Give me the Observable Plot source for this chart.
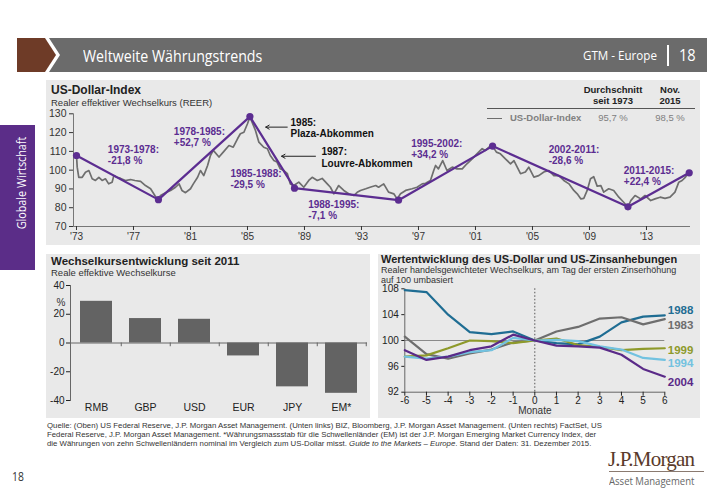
<!DOCTYPE html>
<html><head><meta charset="utf-8">
<script src="https://cdn.jsdelivr.net/npm/d3@7"></script>
<script src="https://cdn.jsdelivr.net/npm/@observablehq/plot@0.6"></script>
<style>
body{margin:0;background:#fff;}
#slide{position:relative;width:719px;height:498px;overflow:hidden;font-family:"Liberation Sans",Arial,sans-serif;color:#222;}
.abs{position:absolute;white-space:nowrap;}
.panel{position:absolute;background:#e9e9e9;}
.narrow{font-family:"Open Sans",sans-serif;transform-origin:left top;transform:scaleX(0.86);}
.foot{position:absolute;left:47px;font-size:7.8px;color:#333;white-space:nowrap;}
</style></head><body><div id="slide">
<svg class="abs" style="left:0;top:38px" width="719" height="34">
  <polygon points="17,0 45,0 56,17 45,34 17,34" fill="#6e3b27"/>
  <polygon points="49,0 707,0 707,34 49,34 60,17" fill="#6b6b6b"/>
</svg>
<div class="abs narrow" style="left:83px;top:44px;font-size:16.5px;color:#fff;">Weltweite Währungstrends</div>
<div class="abs narrow" style="left:583px;top:46px;font-size:13.5px;color:#fff;">GTM - Europe</div>
<div class="abs" style="left:667px;top:45px;width:1.5px;height:21px;background:#fff;"></div>
<div class="abs narrow" style="left:679px;top:43px;font-size:17px;color:#fff;">18</div>

<div class="abs" style="left:0;top:125px;width:35px;height:145px;background:#5b2d88;"></div>
<div class="abs" style="left:21px;top:183px;font-size:12px;font-family:'Open Sans',sans-serif;color:#fff;transform:translate(-50%,-50%) rotate(-90deg) scaleX(0.9);">Globale Wirtschaft</div>

<div class="panel" style="left:46px;top:80px;width:654px;height:165px;"></div>
<div class="panel" style="left:46px;top:254px;width:324px;height:164px;"></div>
<div class="panel" style="left:378px;top:254px;width:322px;height:164px;"></div>

<div class="abs" style="left:51px;top:83px;font-size:12px;font-weight:bold;">US-Dollar-Index</div>
<div class="abs" style="left:51px;top:97px;font-size:9.5px;color:#333;">Realer effektiver Wechselkurs (REER)</div>
<div class="abs" style="left:573px;top:84px;width:80px;text-align:center;font-size:9.5px;font-weight:bold;line-height:11px;">Durchschnitt<br>seit 1973</div>
<div class="abs" style="left:640px;top:84px;width:60px;text-align:center;font-size:9.5px;font-weight:bold;line-height:11px;">Nov.<br>2015</div>
<div class="abs" style="left:487px;top:107.5px;width:208px;height:1.5px;background:#555;"></div>
<div class="abs" style="left:487px;top:117.5px;width:15px;height:1.8px;background:#6e6e6e;"></div>
<div class="abs" style="left:510px;top:112px;font-size:9.5px;font-weight:bold;color:#808080;">US-Dollar-Index</div>
<div class="abs" style="left:573px;top:112px;width:80px;text-align:center;font-size:9.5px;color:#808080;">95,7 %</div>
<div class="abs" style="left:640px;top:112px;width:60px;text-align:center;font-size:9.5px;color:#808080;">98,5 %</div>

<div class="abs" style="left:51px;top:255px;font-size:11.5px;font-weight:bold;">Wechselkursentwicklung seit 2011</div>
<div class="abs" style="left:51px;top:268px;font-size:9.5px;line-height:10px;color:#333;">Reale effektive Wechselkurse</div>

<div class="abs" style="left:381px;top:253px;font-size:11px;font-weight:bold;">Wertentwicklung des US-Dollar und US-Zinsanhebungen</div>
<div class="abs" style="left:381px;top:264.5px;font-size:9px;color:#333;line-height:10px;">Realer handelsgewichteter Wechselkurs, am Tag der ersten Zinserhöhung<br>auf 100 umbasiert</div>

<div class="foot" style="top:421px;">Quelle: (Oben) US Federal Reserve, J.P. Morgan Asset Management. (Unten links) BIZ, Bloomberg, J.P. Morgan Asset Management. (Unten rechts) FactSet, US</div>
<div class="foot" style="top:430px;">Federal Reserve, J.P. Morgan Asset Management. *Währungsmassstab für die Schwellenländer (EM) ist der J.P. Morgan Emerging Market Currency Index, der</div>
<div class="foot" style="top:439px;">die Währungen von zehn Schwellenländern nominal im Vergleich zum US-Dollar misst. <i>Guide to the Markets – Europe</i>. Stand der Daten: 31. Dezember 2015.</div>

<div class="abs narrow" style="left:12px;top:468px;font-size:12px;color:#333;">18</div>
<div class="abs" style="left:608px;top:447px;font-size:21px;font-family:'Liberation Serif','DejaVu Serif',serif;color:#5a3a2a;letter-spacing:-0.8px;">J.P.Morgan</div>
<div class="abs" style="left:609px;top:471px;width:95px;height:0.8px;background:#8a7a70;"></div>
<div class="abs" style="left:609px;top:473px;font-size:11.5px;font-family:'Open Sans',sans-serif;color:#666;transform-origin:left top;transform:scaleX(0.83);">Asset Management</div>
</div>
<script>
// ---------- Top chart data ----------
const usdYears = [1973.0,1973.05,1973.16,1973.4,1973.63,1973.87,1974.1,1974.33,1974.57,1974.8,1975.03,1975.26,1975.5,1975.62,1975.85,1976.1,1976.44,1976.79,1977.1,1977.5,1977.84,1978.2,1978.5,1978.7,1978.9,1979.25,1979.6,1979.95,1980.2,1980.4,1980.65,1981.0,1981.2,1981.5,1981.7,1981.93,1982.2,1982.4,1982.6,1983.0,1983.3,1983.7,1984.0,1984.3,1984.5,1984.75,1985.0,1985.16,1985.3,1985.56,1985.8,1986.14,1986.4,1986.6,1986.85,1987.07,1987.3,1987.55,1987.8,1988.0,1988.25,1988.6,1988.95,1989.3,1989.54,1989.9,1990.24,1990.6,1990.82,1991.06,1991.4,1991.76,1992.1,1992.46,1992.7,1992.93,1993.3,1993.6,1994.0,1994.2,1994.56,1994.9,1995.27,1995.5,1995.74,1996.1,1996.55,1996.9,1997.26,1997.5,1997.84,1998.07,1998.2,1998.4,1998.7,1999.0,1999.37,1999.7,2000.07,2000.4,2000.77,2001.1,2001.47,2001.7,2001.93,2002.17,2002.47,2002.75,2003.1,2003.46,2003.7,2003.93,2004.16,2004.5,2004.74,2005.1,2005.44,2005.8,2006.15,2006.5,2006.85,2007.2,2007.56,2007.9,2008.14,2008.4,2008.6,2008.84,2009.07,2009.3,2009.54,2009.8,2010.0,2010.35,2010.7,2011.06,2011.4,2011.7,2011.9,2012.2,2012.6,2012.9,2013.3,2013.6,2013.96,2014.3,2014.65,2015.0,2015.27,2015.5,2015.74,2015.96];
const usdValues = [108,101.6,96.2,96.2,98.9,99.8,95.4,94.5,96.2,94.5,95.4,92.7,93.6,97.1,96.2,95.6,94.5,95.0,94.5,94.0,91.8,90.1,86.5,84.4,86.5,88.0,89.2,90.9,92.7,89.2,88.0,90.1,92.7,96.2,99.8,97.1,102.5,107.8,110.5,107.0,109.6,113.1,112.2,116.7,119.4,120.2,124.7,128.2,126.0,121.1,114.9,112.2,111.4,107.8,105.1,104.3,100.7,99.8,98.1,92.7,91.8,93.6,90.9,94.5,96.2,94.5,95.6,92.7,90.9,87.4,91.8,89.2,87.4,86.5,88.2,89.2,90.1,90.9,91.8,90.9,92.7,88.3,87.4,84.7,87.4,89.2,90.1,90.9,92.7,93.0,94.5,99.8,102.5,100.7,105.1,99.8,101.6,100.7,100.7,103.4,106.0,108.7,111.4,110.5,112.2,113.1,109.6,108.7,106.0,103.4,105.1,101.6,98.1,99.0,101.6,96.3,97.1,99.0,99.8,97.1,97.1,94.5,92.7,89.2,87.4,84.7,85.0,89.2,95.4,96.5,91.5,91.8,88.3,90.1,89.2,85.6,82.9,80.3,83.8,86.5,84.7,86.5,83.8,84.7,85.6,85.0,85.6,88.3,93.6,94.5,96.3,98.9];
const trendYears = [1973.0,1978.75,1985.17,1988.3,1995.6,2002.2,2011.7,2016.0];
const trendValues = [107.8,84.3,128.5,90.4,84.0,112.8,80.5,98.6];
const periodTexts = ["1973-1978:\n-21,8 %","1978-1985:\n+52,7 %","1985-1988:\n-29,5 %","1988-1995:\n-7,1 %","1995-2002:\n+34,2 %","2002-2011:\n-28,6 %","2011-2015:\n+22,4 %"];
const periodYears = [1975.2,1979.83,1983.8,1989.26,1996.49,2006.14,2011.41];
const periodValues = [108.3,117.5,95.2,78.7,111.2,108.0,96.9];
const eventTexts = ["1985:\nPlaza-Abkommen","1987:\nLouvre-Abkommen"];
const eventYears = [1988.02,1990.19];
const eventValues = [122.6,106.8];
const arrowFromYears = [1987.79,1989.77];
const arrowToYears = [1986.28,1987.39];
const arrowValues = [122.9,107.4];
const yearTicks = [1973,1977,1981,1985,1989,1993,1997,2001,2005,2009,2013];
const xDomainTop = [1972.79, 2016.09];

// ---------- Bottom-left data ----------
const currencies = ["RMB","GBP","USD","EUR","JPY","EM*"];
const currencyChanges = [29,17,16.5,-9,-30.5,-35];

// ---------- Bottom-right data ----------
const months = [-6,-5,-4,-3,-2,-1,0,1,2,3,4,5,6];
const hikeYears = ["1988","1983","1999","1994","2004"];
const s1988 = [107.8,107.5,104.0,101.3,101.0,101.4,100.0,99.6,99.4,100.6,102.8,103.7,103.9];
const s1983 = [100.6,97.9,97.2,98.0,98.6,99.7,100.0,101.4,102.1,103.4,103.6,102.5,103.3];
const s1999 = [97.5,97.7,98.8,100.0,99.9,99.6,100.0,100.3,99.3,99.0,98.5,98.7,98.8];
const s1994 = [97.5,97.2,97.5,98.2,98.5,100.4,100.0,100.1,99.9,99.1,98.6,97.3,97.0];
const s2004 = [98.5,97.0,97.5,98.5,99.1,100.9,100.0,99.2,99.1,98.9,97.8,95.6,94.4];
const hikeColors = ["#1f6d93","#6e6e6e","#8e9a2b","#72c2e0","#5a2a88"];
// label nudges (value units) so the end labels don't collide
const hikeLabelShift = {"1988":0.8,"1983":-1.0,"1999":-0.3,"1994":-0.5,"2004":-0.9};

const PURPLE = "#5c2d91";
const slide = document.getElementById("slide");
const fontFam = "'Liberation Sans', Arial, sans-serif";
const plain = d => String(d);

// ---------- Top chart ----------
const usd = usdYears.map((y,i)=>({year:y, value:usdValues[i]}));
const trend = trendYears.map((y,i)=>({year:y, value:trendValues[i]}));
const periods = periodTexts.map((t,i)=>({text:t, year:periodYears[i], value:periodValues[i]}));
const events = eventTexts.map((t,i)=>({text:t, year:eventYears[i], value:eventValues[i]}));
const arrows = arrowFromYears.map((y,i)=>({x1:y, x2:arrowToYears[i], y:arrowValues[i]}));

const topChart = Plot.plot({
  width:654, height:145,
  marginLeft:27, marginRight:10, marginTop:13.3, marginBottom:19,
  x:{domain:xDomainTop},
  y:{domain:[70,130]},
  style:{position:"absolute", left:"46px", top:"100px", background:"transparent", overflow:"visible", fontFamily:fontFam, fontSize:"10px", color:"#333"},
  marks:[
    Plot.ruleX([xDomainTop[0]], {y1:70, y2:130, stroke:"#777"}),
    Plot.ruleY([70], {stroke:"#777"}),
    Plot.axisY({ticks:d3.range(70,131,10), tickFormat:plain, tickSize:4, tickPadding:3, label:null, fontSize:10.5}),
    Plot.axisX({ticks:yearTicks, tickFormat:d=>"'"+String(d).slice(2), tickSize:4, tickPadding:2, label:null, fontSize:10}),
    Plot.line(usd, {x:"year", y:"value", stroke:"#6e6e6e", strokeWidth:1.7}),
    Plot.line(trend, {x:"year", y:"value", stroke:PURPLE, strokeWidth:2.2}),
    Plot.dot(trend, {x:"year", y:"value", r:3.6, fill:PURPLE}),
    Plot.text(periods, {x:"year", y:"value", text:"text", textAnchor:"start", fill:PURPLE, fontWeight:"bold", fontSize:10, lineHeight:1.12}),
    Plot.text(events, {x:"year", y:"value", text:"text", textAnchor:"start", fill:"#111", fontWeight:"bold", fontSize:10, lineHeight:1.12}),
    Plot.arrow(arrows, {x1:"x1", x2:"x2", y1:"y", y2:"y", stroke:"#222", strokeWidth:1, headLength:6})
  ]
});
slide.appendChild(topChart);

// ---------- Bottom-left chart ----------
const bars = currencies.map((c,i)=>({cur:c, v:currencyChanges[i]}));
const bl = Plot.plot({
  width:324, height:136,
  marginLeft:24, marginRight:3, marginTop:5, marginBottom:16,
  x:{domain:currencies, paddingInner:0.35, paddingOuter:0.175},
  y:{domain:[-40,40]},
  style:{position:"absolute", left:"46px", top:"280px", background:"transparent", overflow:"visible", fontFamily:fontFam, fontSize:"10px", color:"#222"},
  marks:[
    Plot.barY(bars, {x:"cur", y:"v", fill:"#636363"}),
    Plot.frame({anchor:"left", stroke:"#666"}),
    Plot.ruleY([0], {stroke:"#666"}),
    Plot.ruleX(currencies, {x:d=>d, y1:0, y2:-2.6, dx:24.75, stroke:"#666"}),
    Plot.axisY({ticks:[-40,-20,0,20,40], tickFormat:plain, tickSize:4, tickPadding:2, label:null, fontSize:10}),
    Plot.axisX({tickSize:0, tickPadding:3, label:null, fontSize:10.5}),
    Plot.text(["%"], {frameAnchor:"top-left", text:d=>d, dx:-14, dy:13, textAnchor:"start", fontSize:10, fill:"#333"})
  ]
});
slide.appendChild(bl);

// ---------- Bottom-right chart ----------
const seriesMap = {"1988":s1988,"1983":s1983,"1999":s1999,"1994":s1994,"2004":s2004};
const hikes = hikeYears.flatMap(k=>months.map((m,i)=>({year:k, m, v:seriesMap[k][i]})));
const ends = hikes.filter(d=>d.m===6);
const br = Plot.plot({
  width:322, height:133,
  marginLeft:26.3, marginRight:35.7, marginTop:5.3, marginBottom:24.3,
  x:{domain:[-6,6]},
  y:{domain:[92,108]},
  color:{domain:hikeYears, range:hikeColors},
  style:{position:"absolute", left:"378px", top:"283px", background:"transparent", overflow:"visible", fontFamily:fontFam, fontSize:"10px", color:"#222"},
  marks:[
    Plot.ruleY([100], {stroke:"#8a8a8a", strokeWidth:1}),
    Plot.ruleX([0], {stroke:"#555", strokeDasharray:"1.5,2"}),
    Plot.ruleX([-6], {stroke:"#666"}),
    Plot.ruleY([92], {stroke:"#666"}),
    Plot.axisY({ticks:[92,96,100,104,108], tickFormat:plain, tickSize:3, tickPadding:3, label:null, fontSize:10}),
    Plot.axisX({ticks:months, tickFormat:plain, tickSize:4, tickPadding:1, label:null, fontSize:10}),
    Plot.line(hikes, {x:"m", y:"v", z:"year", stroke:"year", strokeWidth:2.2}),
    Plot.text(ends, {x:"m", y:d=>d.v + hikeLabelShift[d.year], text:"year", fill:"year", dx:3, textAnchor:"start", fontWeight:"bold", fontSize:11.5}),
    Plot.text(["Monate"], {frameAnchor:"bottom", text:d=>d, dy:22, fontSize:10, fill:"#333"})
  ]
});
slide.appendChild(br);
</script>
</body></html>
